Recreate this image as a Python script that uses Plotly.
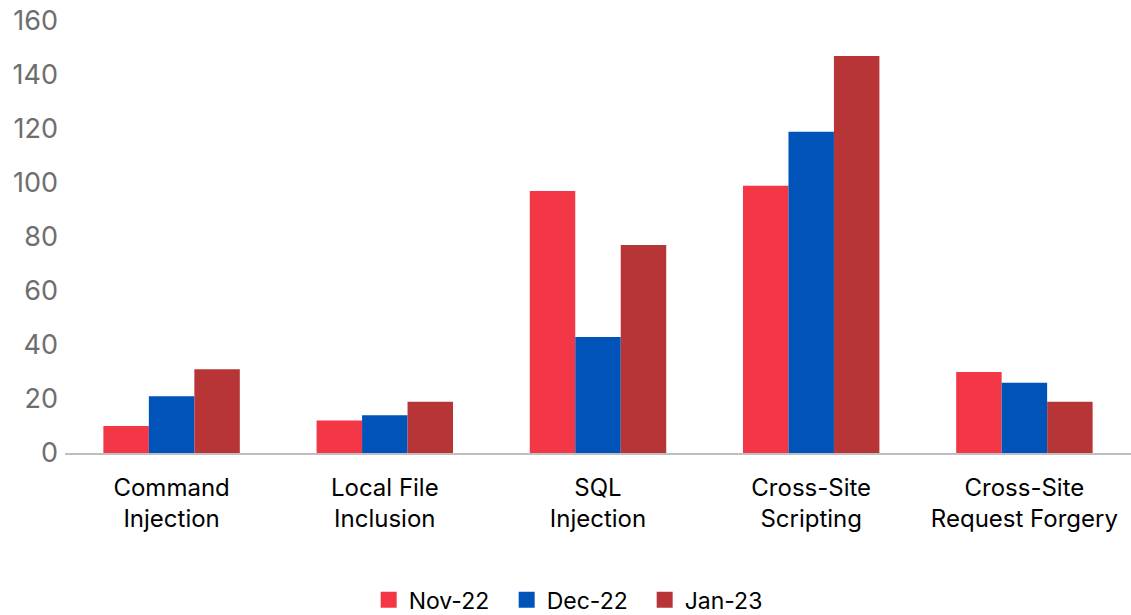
import plotly.graph_objects as go

categories = ["Command<br>Injection", "Local File<br>Inclusion", "SQL<br>Injection",
              "Cross-Site<br>Scripting", "Cross-Site<br>Request Forgery"]
nov22 = [10, 12, 97, 99, 30]
dec22 = [21, 14, 43, 119, 26]
jan23 = [31, 19, 77, 147, 19]
series_names = ["Nov-22", "Dec-22", "Jan-23"]
colors = ["#F33747", "#0053B9", "#B83537"]

fig = go.Figure()
for name, vals, c in zip(series_names, [nov22, dec22, jan23], colors):
    fig.add_trace(go.Bar(x=categories, y=vals, name=name, marker_color=c,
                         marker_line_width=0, showlegend=False))
# legend entries with larger square swatches
for name, c in zip(series_names, colors):
    fig.add_trace(go.Scatter(x=[None], y=[None], mode="markers", name=name,
                             marker=dict(symbol="square", size=18, color=c)))

fig.update_layout(
    width=1131, height=615,
    paper_bgcolor="white", plot_bgcolor="white",
    margin=dict(l=65, r=0, t=21, b=162, autoexpand=False),
    barmode="group", bargap=0.36, bargroupgap=0,
    font=dict(family="Inter, Roboto, sans-serif", size=24, color="#000000"),
    legend=dict(orientation="h", xref="container", x=0.509, xanchor="center",
                y=-0.34, yanchor="middle",
                font=dict(size=23, color="#000000"), itemwidth=30,
                entrywidth=93, entrywidthmode="pixels",
                tracegroupgap=0, traceorder="normal"),
    xaxis=dict(showgrid=False, showline=True, linecolor="#BFBFBF", linewidth=2,
               ticks="", tickfont=dict(size=24, color="#000000"),
               ticklabelstandoff=12, automargin=False, ticklabeloverflow="allow"),
    yaxis=dict(range=[0, 160], dtick=20, showgrid=False, zeroline=False,
               showline=False, tickfont=dict(size=27, color="#6E6E6E"),
               ticklabelstandoff=6, automargin=False, ticklabeloverflow="allow"),
)
fig.write_html("out.html", config={"displayModeBar": False},
               post_script="document.body.style.margin='0';document.body.style.overflow='hidden';")
